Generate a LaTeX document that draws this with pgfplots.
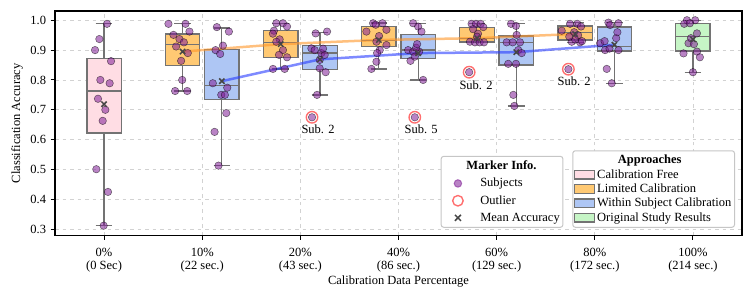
\documentclass[border=0pt]{standalone}
\usepackage{fontspec}
\setmainfont{Liberation Serif}
\usepackage{pgfplots}
\pgfplotsset{compat=1.18}
\usepgfplotslibrary{statistics}
\definecolor{pinkc}{RGB}{255,221,228}
\definecolor{orangec}{RGB}{255,201,115}
\definecolor{bluec}{RGB}{174,198,244}
\definecolor{greenc}{RGB}{198,245,198}
\definecolor{edgec}{RGB}{115,115,115}
\definecolor{ptcol}{RGB}{128,30,150}
\definecolor{orline}{RGB}{255,150,40}
\definecolor{blline}{RGB}{40,60,255}
\definecolor{outcol}{RGB}{255,110,110}
\definecolor{meancol}{RGB}{70,70,70}
\pgfplotsset{
  bx/.style={forget plot, draw=edgec, line width=1pt, solid, boxplot/draw direction=y},
  pts/.style={forget plot, only marks, mark=*, mark size=3pt, mark options={draw=none, fill=ptcol}, opacity=0.55},
  patch/.style={legend image code/.code={\draw[sharp corners, draw=edgec, line width=1pt, fill=#1] (0pt,-3.4pt) rectangle (16pt,3.4pt);}},
}
\begin{document}
\begin{tikzpicture}
\begin{axis}[
  name=main,
  scale only axis, width=549.6pt, height=179.6pt,
  xmin=-0.5, xmax=6.5, ymin=0.279, ymax=1.031,
  xtick={0,1,2,3,4,5,6},
  xticklabels={{0\%\\(0 Sec)},{10\%\\(22 sec.)},{20\%\\(43 sec.)},{40\%\\(86 sec.)},{60\%\\(129 sec.)},{80\%\\(172 sec.)},{100\%\\(214 sec.)}},
  xticklabel style={align=center, yshift=-3pt, font=\fontsize{10}{10.8}\selectfont},
  ytick={0.3,0.4,0.5,0.6,0.7,0.8,0.9,1.0},
  yticklabel style={/pgf/number format/.cd, fixed, fixed zerofill, precision=1},
  /pgf/number format/assume math mode=true,
  grid=major, grid style={dashed, gray!35, line width=0.6pt},
  axis line style={line width=0.9pt},
  tick align=outside, tick pos=left, major tick length=3.6pt,
  tick style={black, line width=0.8pt},
  xlabel={Calibration Data Percentage},
  ylabel={Classification Accuracy},
  xlabel style={at={(axis description cs:0.5,-0.2205)}, anchor=base},
  ylabel style={at={(axis description cs:-0.0553,0.5)}, anchor=center},
  legend style={at={(0.9898,0.0344)}, anchor=south east, draw=gray!45, line width=0.8pt, rounded corners=2pt, fill=white, inner xsep=1pt, inner ysep=2pt, row sep=0pt, nodes={inner sep=1.5pt}},
  legend cell align=left,
  boxplot/box extend=0.35, boxplot/whisker extend=0.17,
]
% boxes
\addplot[bx, fill=pinkc, boxplot prepared={draw position=0, lower whisker=0.312, lower quartile=0.622, median=0.763, upper quartile=0.873, upper whisker=0.988}] coordinates {};
\addplot[bx, fill=orangec, boxplot prepared={draw position=0.8, lower whisker=0.763, lower quartile=0.848, median=0.920, upper quartile=0.954, upper whisker=0.988}] coordinates {};
\addplot[bx, fill=bluec, boxplot prepared={draw position=1.2, lower whisker=0.513, lower quartile=0.735, median=0.781, upper quartile=0.903, upper whisker=0.974}] coordinates {};
\addplot[bx, fill=orangec, boxplot prepared={draw position=1.8, lower whisker=0.837, lower quartile=0.875, median=0.925, upper quartile=0.966, upper whisker=0.989}] coordinates {};
\addplot[bx, fill=bluec, boxplot prepared={draw position=2.2, lower whisker=0.750, lower quartile=0.835, median=0.890, upper quartile=0.916, upper whisker=0.958}] coordinates {};
\addplot[bx, fill=orangec, boxplot prepared={draw position=2.8, lower whisker=0.837, lower quartile=0.911, median=0.932, upper quartile=0.979, upper whisker=0.991}] coordinates {};
\addplot[bx, fill=bluec, boxplot prepared={draw position=3.2, lower whisker=0.800, lower quartile=0.871, median=0.900, upper quartile=0.953, upper whisker=0.990}] coordinates {};
\addplot[bx, fill=orangec, boxplot prepared={draw position=3.8, lower whisker=0.925, lower quartile=0.927, median=0.940, upper quartile=0.975, upper whisker=0.990}] coordinates {};
\addplot[bx, fill=bluec, boxplot prepared={draw position=4.2, lower whisker=0.713, lower quartile=0.850, median=0.925, upper quartile=0.947, upper whisker=0.988}] coordinates {};
\addplot[bx, fill=orangec, boxplot prepared={draw position=4.8, lower whisker=0.925, lower quartile=0.934, median=0.960, upper quartile=0.981, upper whisker=0.992}] coordinates {};
\addplot[bx, fill=bluec, boxplot prepared={draw position=5.2, lower whisker=0.789, lower quartile=0.897, median=0.913, upper quartile=0.977, upper whisker=0.992}] coordinates {};
\addplot[bx, fill=greenc, boxplot prepared={draw position=6, lower whisker=0.826, lower quartile=0.897, median=0.946, upper quartile=0.988, upper whisker=0.999}] coordinates {};
% trend lines
\addplot[forget plot, no marks, orline, line width=2pt, opacity=0.6] coordinates {(0.8,0.895) (1.8,0.920) (2.8,0.934) (3.8,0.940) (4.8,0.954)};
\addplot[forget plot, no marks, blline, line width=2pt, opacity=0.6] coordinates {(1.2,0.796) (2.2,0.869) (3.2,0.890) (4.2,0.893) (5.2,0.918)};
% subjects
\addplot[pts] coordinates {(0.030,0.988) (-0.048,0.937) (-0.092,0.900) (0.071,0.863) (-0.038,0.800) (0.057,0.789) (-0.062,0.737) (0.013,0.700) (-0.014,0.663) (-0.079,0.501) (0.040,0.425) (-0.004,0.312)};
\addplot[pts] coordinates {(0.656,0.988) (0.830,0.988) (0.870,0.962) (0.707,0.951) (0.768,0.937) (0.813,0.926) (0.734,0.912) (0.853,0.890) (0.785,0.864) (0.796,0.800) (0.724,0.763) (0.847,0.763)};
\addplot[pts] coordinates {(1.149,0.977) (1.272,0.962) (1.211,0.915) (1.136,0.900) (1.183,0.887) (1.108,0.789) (1.255,0.774) (1.194,0.750) (1.231,0.750) (1.245,0.689) (1.126,0.626) (1.166,0.513)};
\addplot[pts] coordinates {(1.755,0.990) (1.823,0.990) (1.864,0.979) (1.731,0.965) (1.720,0.955) (1.789,0.936) (1.755,0.928) (1.823,0.900) (1.782,0.884) (1.864,0.876) (1.721,0.837) (1.840,0.837)};
\addplot[pts] coordinates {(2.156,0.956) (2.272,0.962) (2.112,0.906) (2.146,0.900) (2.214,0.890) (2.248,0.884) (2.197,0.867) (2.197,0.839) (2.258,0.826) (2.170,0.750) (2.231,0.905) (2.119,0.675)};
\addplot[pts] coordinates {(2.741,0.990) (2.837,0.990) (2.768,0.985) (2.877,0.968) (2.673,0.962) (2.802,0.947) (2.775,0.928) (2.877,0.917) (2.809,0.900) (2.782,0.890) (2.775,0.861) (2.724,0.837)};
\addplot[pts] coordinates {(3.149,0.990) (3.200,0.979) (3.234,0.962) (3.098,0.900) (3.149,0.895) (3.210,0.895) (3.180,0.908) (3.122,0.864) (3.166,0.878) (3.251,0.800) (3.190,0.920) (3.166,0.675)};
\addplot[pts] coordinates {(3.745,0.988) (3.789,0.988) (3.837,0.988) (3.864,0.977) (3.760,0.970) (3.810,0.955) (3.728,0.928) (3.779,0.926) (3.827,0.926) (3.871,0.926) (3.800,0.945) (3.720,0.826)};
\addplot[pts] coordinates {(4.146,0.988) (4.197,0.981) (4.204,0.951) (4.102,0.926) (4.163,0.926) (4.238,0.926) (4.220,0.900) (4.255,0.890) (4.118,0.854) (4.197,0.854) (4.170,0.750) (4.180,0.713)};
\addplot[pts] coordinates {(4.748,0.988) (4.822,0.988) (4.860,0.979) (4.663,0.965) (4.790,0.960) (4.830,0.950) (4.765,0.928) (4.850,0.926) (4.800,0.935) (4.740,0.945) (4.870,0.930) (4.731,0.836)};
\addplot[pts] coordinates {(5.139,0.992) (5.241,0.990) (5.156,0.984) (5.218,0.940) (5.054,0.923) (5.105,0.900) (5.241,0.900) (5.100,0.930) (5.150,0.905) (5.122,0.837) (5.173,0.789) (5.230,0.960)};
\addplot[pts] coordinates {(5.939,1.000) (6.023,1.000) (5.911,0.988) (5.969,0.990) (6.041,0.956) (5.955,0.923) (6.010,0.920) (5.904,0.889) (6.041,0.895) (6.071,0.876) (6.000,0.826) (5.980,0.940)};
% outliers
\addplot[forget plot, only marks, mark=o, mark size=4.6pt, mark options={draw=outcol, line width=1.1pt}] coordinates {(2.119,0.675) (3.166,0.675) (3.720,0.826) (4.731,0.836)};
% means
\addplot[forget plot, only marks, mark=x, mark size=3pt, mark options={draw=meancol, line width=1.2pt}] coordinates {(0,0.719) (0.8,0.895) (1.2,0.796) (1.8,0.920) (2.2,0.869) (2.8,0.934) (3.2,0.890) (3.8,0.940) (4.2,0.893) (4.8,0.954) (5.2,0.918) (6,0.936)};
% outlier labels
\node[font=\normalsize] at (axis cs:2.18,0.636) {Sub. 2};
\node[font=\normalsize] at (axis cs:3.23,0.636) {Sub. 5};
\node[font=\normalsize] at (axis cs:3.79,0.783) {Sub. 2};
\node[font=\normalsize] at (axis cs:4.79,0.797) {Sub. 2};
% legend
\addlegendimage{empty legend}
\addlegendentry{\hspace*{42pt}\makebox[0pt]{\textbf{Approaches}}}
\addlegendimage{patch=pinkc}
\addlegendentry{Calibration Free}
\addlegendimage{patch=orangec}
\addlegendentry{Limited Calibration}
\addlegendimage{patch=bluec}
\addlegendentry{Within Subject Calibration}
\addlegendimage{patch=greenc}
\addlegendentry{Original Study Results}
\end{axis}
\begin{axis}[
  scale only axis, width=549.6pt, height=179.6pt,
  xmin=-0.5, xmax=6.5, ymin=0.279, ymax=1.031,
  hide axis,
  legend style={at={(0.740,0.0344)}, anchor=south east, draw=gray!45, line width=0.8pt, rounded corners=2pt, fill=white, inner xsep=1pt, inner ysep=2pt, row sep=2.4pt, nodes={inner sep=1.5pt}},
  legend cell align=left,
]
\addlegendimage{empty legend}
\addlegendentry{\hspace*{17pt}\makebox[0pt]{\textbf{Marker Info.}}}
\addlegendimage{legend image code/.code={\path (0pt,0pt) (28pt,0pt); \fill[ptcol, opacity=0.55] (12pt,0pt) circle (3pt);}}
\addlegendentry{Subjects}
\addlegendimage{legend image code/.code={\path (0pt,0pt) (28pt,0pt); \draw[outcol, line width=1.1pt] (12pt,0pt) circle (4.2pt);}}
\addlegendentry{Outlier}
\addlegendimage{legend image code/.code={\path (0pt,0pt) (28pt,0pt); \draw[meancol, line width=1.2pt, sharp corners] (9.6pt,-2.4pt) -- (14.4pt,2.4pt) (9.6pt,2.4pt) -- (14.4pt,-2.4pt);}}
\addlegendentry{Mean Accuracy}
\end{axis}
\pgfresetboundingbox
\path[use as bounding box] (main.south west) ++(-44pt,-51.6pt) rectangle ([shift={(8.8pt,8.8pt)}]main.north east);
\end{tikzpicture}
\end{document}
